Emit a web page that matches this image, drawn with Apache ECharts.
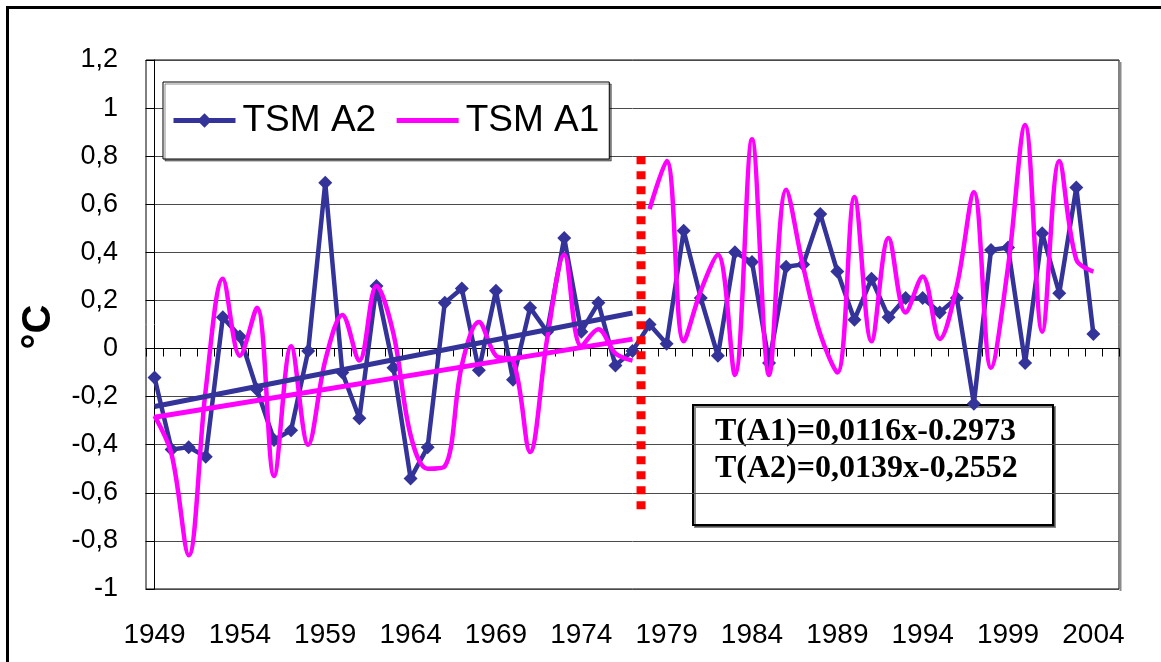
<!DOCTYPE html>
<html>
<head>
<meta charset="utf-8">
<script src="https://cdn.jsdelivr.net/npm/echarts@6/dist/echarts.min.js"></script>
<style>
  html, body { margin: 0; padding: 0; background: #ffffff; }
  #chart { width: 1161px; height: 662px; }
</style>
</head>
<body>
<div id="chart"></div>
<script>
// Years on the category axis (the last slot is left empty)
const years = [
  '1949','1950','1951','1952','1953','1954','1955','1956','1957','1958',
  '1959','1960','1961','1962','1963','1964','1965','1966','1967','1968',
  '1969','1970','1971','1972','1973','1974','1975','1976','1977','1978',
  '1979','1980','1981','1982','1983','1984','1985','1986','1987','1988',
  '1989','1990','1991','1992','1993','1994','1995','1996','1997','1998',
  '1999','2000','2001','2002','2003','2004','2005'
];

// TSM A2 anomalies, °C, 1949-2004
const tsmA2 = [
  -0.12, -0.42, -0.41, -0.45, 0.13, 0.05, -0.17, -0.38, -0.34, -0.01,
  0.69, -0.10, -0.29, 0.26, -0.08, -0.54, -0.41, 0.19, 0.25, -0.09,
  0.24, -0.13, 0.17, 0.07, 0.46, 0.07, 0.19, -0.07, -0.01, 0.10,
  0.02, 0.49, 0.21, -0.03, 0.40, 0.36, -0.06, 0.34, 0.35, 0.56,
  0.32, 0.12, 0.29, 0.13, 0.21, 0.21, 0.15, 0.21, -0.23, 0.41,
  0.42, -0.06, 0.48, 0.23, 0.67, 0.06
];

// TSM A1 anomalies, °C, 1949-2004
const tsmA1 = [
  -0.28, -0.44, -0.86, -0.17, 0.29, -0.03, 0.17, -0.53, 0.01, -0.40,
  -0.05, 0.14, -0.05, 0.26, 0.06, -0.36, -0.50, -0.49, -0.07, 0.11,
  -0.03, -0.05, -0.43, 0.04, 0.39, 0.01, 0.08, -0.02, -0.05, 0.58,
  0.78, 0.03, 0.24, 0.39, -0.11, 0.87, -0.11, 0.66, 0.34, 0.06,
  -0.10, 0.63, 0.03, 0.46, 0.15, 0.30, 0.04, 0.26, 0.65, -0.08,
  0.34, 0.93, 0.07, 0.78, 0.37, 0.32
];

// Linear trends over 1949-1977 (x = 1 .. 29): [slope, intercept]
const trendA1 = [0.0116, -0.2973];
const trendA2 = [0.0139, -0.2552];
const trendSpan = [1, 29];

// Split year between the two periods (index of the last year before it)
const splitIndex = 28;
const splitRange = [0.8, -0.69];

const equationLines = ['T(A1)=0,0116x-0.2973', 'T(A2)=0,0139x-0,2552'];

const NAVY = '#333399';
const PINK = '#ff00ff';
const SANS = '"Liberation Sans", Arial, sans-serif';
const SERIF = '"Liberation Serif", "Times New Roman", serif';

const trendPoints = (t) => trendSpan.map((x) => [x - 1, +(t[0] * x + t[1]).toFixed(4)]);

// A1 is drawn in two pieces with a break between 1977 and 1978
const a1First = tsmA1.slice(0, splitIndex + 1);
const a1Second = tsmA1.map((v, i) => (i > splitIndex ? v : '-'));

const chart = echarts.init(document.getElementById('chart'), null, { renderer: 'canvas' });

const fmt = (v) => String(Math.round(v * 10) / 10).replace('.', ',');

chart.setOption({
  animation: false,
  backgroundColor: '#ffffff',
  grid: {
    left: 146, right: 42, top: 60, bottom: 73,
    show: true, borderColor: '#000', borderWidth: 1,
    backgroundColor: 'transparent'
  },
  legend: {
    data: [
      { name: 'TSM A2' },
      { name: 'TSM A1', itemStyle: { opacity: 0 } }
    ],
    left: 163, top: 82,
    padding: [20, 10, 20, 8],
    itemGap: 18,
    itemWidth: 62, itemHeight: 18,
    lineStyle: { width: 5 },
    backgroundColor: '#ffffff',
    borderColor: '#000', borderWidth: 1,
    shadowColor: 'rgba(0,0,0,0.45)', shadowOffsetX: 2, shadowOffsetY: 2, shadowBlur: 0,
    textStyle: { fontFamily: SANS, fontSize: 37, color: '#000', padding: [0, 0, 0, 2] }
  },
  xAxis: [
    {
      type: 'category', data: years, position: 'bottom',
      axisLine: { onZero: true, lineStyle: { color: '#000', width: 1 } },
      axisTick: { show: true, interval: 0, length: 8, lineStyle: { color: '#000' } },
      axisLabel: { show: false },
      splitLine: { show: false }
    },
    {
      type: 'category', data: years, position: 'bottom',
      axisLine: { show: false, onZero: false },
      axisTick: { show: false },
      axisLabel: { interval: 4, margin: 32, fontFamily: SANS, fontSize: 28, color: '#000' },
      splitLine: { show: false }
    },
    { type: 'value', min: -0.5, max: years.length - 0.5, show: false }
  ],
  yAxis: {
    type: 'value', min: -1, max: 1.2, interval: 0.2,
    axisLine: { show: true, lineStyle: { color: '#000', width: 1 } },
    axisTick: { show: true, length: 9, lineStyle: { color: '#000' } },
    axisLabel: { margin: 28, fontFamily: SANS, fontSize: 27, color: '#000', formatter: fmt },
    splitLine: { show: true, lineStyle: { color: '#4a4a4a', width: 1 } }
  },
  series: [
    {
      name: 'TSM A2', type: 'line', xAxisIndex: 0, data: tsmA2,
      symbol: 'diamond', symbolSize: 14, showSymbol: true, showAllSymbol: true,
      lineStyle: { color: NAVY, width: 4.5 },
      itemStyle: { color: NAVY },
      z: 3
    },
    {
      name: 'TSM A1', type: 'line', xAxisIndex: 0, data: a1First,
      smooth: 0.35, symbol: 'none',
      lineStyle: { color: PINK, width: 4.5 }, itemStyle: { color: PINK },
      z: 4
    },
    {
      name: 'TSM A1', type: 'line', xAxisIndex: 0, data: a1Second,
      smooth: 0.35, symbol: 'none', connectNulls: false,
      lineStyle: { color: PINK, width: 4.5 }, itemStyle: { color: PINK },
      z: 4
    },
    {
      name: 'Trend A2', type: 'line', xAxisIndex: 2, data: trendPoints(trendA2),
      symbol: 'none', lineStyle: { color: NAVY, width: 5 }, z: 5
    },
    {
      name: 'Trend A1', type: 'line', xAxisIndex: 2, data: trendPoints(trendA1),
      symbol: 'none', lineStyle: { color: PINK, width: 5 }, z: 5
    },
    {
      name: 'Split', type: 'line', xAxisIndex: 2,
      data: [[splitIndex + 0.5, splitRange[0]], [splitIndex + 0.5, splitRange[1]]],
      symbol: 'none',
      lineStyle: { color: '#ff0000', width: 9, type: [8, 7], cap: 'butt' },
      z: 6
    }
  ],
  graphic: [
    {
      type: 'rect', silent: true, z: 0,
      shape: { x: 7.5, y: 7.5, width: 1200, height: 700 },
      style: { fill: 'none', stroke: '#000', lineWidth: 3 }
    },
    {
      // soft shadow along the right edge of the plot frame
      type: 'line', silent: true, z: 0,
      shape: { x1: 1120.5, y1: 62, x2: 1120.5, y2: 591 },
      style: { stroke: '#8c8c8c', lineWidth: 2 }
    },
    {
      type: 'text', silent: true, z: 10,
      x: 39, y: 327, rotation: Math.PI / 2,
      style: {
        text: '°C', font: 'bold 40px ' + SANS, fill: '#000',
        textAlign: 'center', textVerticalAlign: 'middle'
      }
    },
    {
      type: 'group', z: 20,
      children: [
        {
          type: 'rect', silent: true,
          shape: { x: 693, y: 405, width: 360, height: 120 },
          style: {
            fill: '#ffffff', stroke: '#000', lineWidth: 2,
            shadowColor: 'rgba(0,0,0,0.45)', shadowOffsetX: 2, shadowOffsetY: 2, shadowBlur: 0
          }
        },
        {
          type: 'text', silent: true,
          x: 715, y: 413,
          style: {
            text: equationLines.join('\n'), font: 'bold 32px ' + SERIF,
            lineHeight: 37, fill: '#000', textAlign: 'left', textVerticalAlign: 'top'
          }
        }
      ]
    }
  ]
});
</script>
</body>
</html>
